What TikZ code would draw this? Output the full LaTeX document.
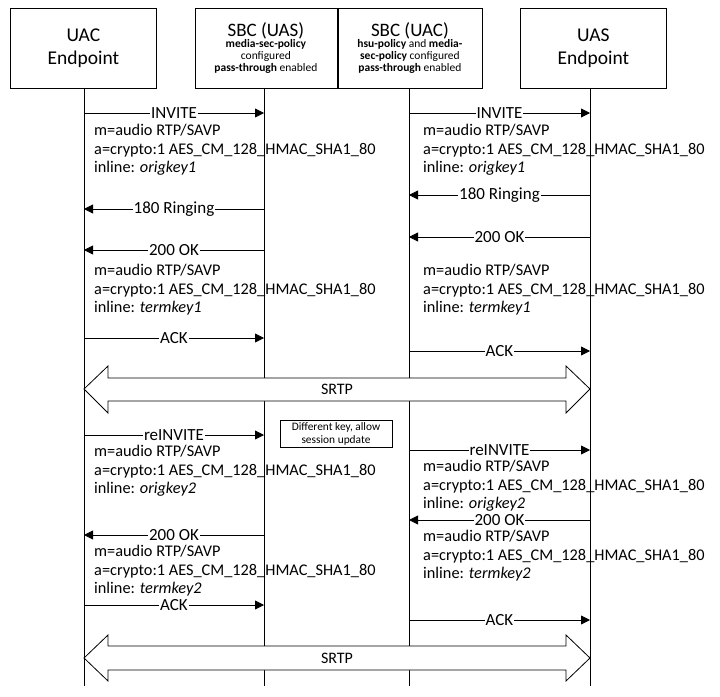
\documentclass[tikz,border=0pt]{standalone}
\usepackage{fontspec}
\setmainfont{Carlito}
\usetikzlibrary{arrows.meta}
\begin{document}
\begin{tikzpicture}[x=1pt,y=-1pt,
  box/.style={draw,line width=0.8pt,minimum height=80pt,align=center,inner sep=0pt,anchor=north west},
  life/.style={line width=0.8pt},
  msg/.style={line width=0.8pt,-{Triangle[length=9pt,width=9pt]}},
  lbl/.style={fill=white,inner sep=1pt,font=\fontsize{17}{17}\selectfont},
  sdp/.style={anchor=north west,align=left,inner sep=0pt,font=\fontsize{16.3}{18.7}\selectfont},
  band/.style={line width=0.8pt,fill=white}]
\useasboundingbox (0,0) rectangle (720,696);
\node[box,minimum width=146pt,font=\fontsize{19.5}{23}\selectfont] (uac) at (10,8) {UAC\\Endpoint};
\node[box,minimum width=142pt] (sbc1) at (194.5,8) {\fontsize{19}{21}\selectfont SBC (UAS)\\[-1pt]\fontsize{11.5}{15}\selectfont\textbf{media-sec-policy}\\\fontsize{11.5}{15}\selectfont configured\\\fontsize{11.5}{15}\selectfont\textbf{pass-through} enabled};
\node[box,minimum width=144pt] (sbc2) at (337.5,8) {\fontsize{19}{21}\selectfont SBC (UAC)\\[-1pt]\fontsize{11.5}{15}\selectfont\textbf{hsu-policy} and \textbf{media-}\\\fontsize{11.5}{15}\selectfont\textbf{sec-policy} configured\\\fontsize{11.5}{15}\selectfont\textbf{pass-through} enabled};
\node[box,minimum width=146pt,font=\fontsize{19.5}{23}\selectfont] (uas) at (520,8) {UAS\\Endpoint};
\coordinate (e1) at (84,686); \coordinate (e2) at (264,686);
\coordinate (e3) at (409,686); \coordinate (e4) at (590,686);
\draw[life] (84,88) -- (e1); \draw[life] (264,88) -- (e2);
\draw[life] (409,88) -- (e3); \draw[life] (590,88) -- (e4);
\draw[msg] (84,113) -- node[lbl]{INVITE} (264,113);
\draw[msg] (409,113) -- node[lbl]{INVITE} (590,113);
\node[sdp] (s1) at (94,124) {m=audio RTP/SAVP\\a=crypto:1 AES\_CM\_128\_HMAC\_SHA1\_80\\inline: \textit{origkey1}};
\node[sdp] (s2) at (423,124) {m=audio RTP/SAVP\\a=crypto:1 AES\_CM\_128\_HMAC\_SHA1\_80\\inline: \textit{origkey1}};
\draw[msg] (590,195) -- node[lbl]{180 Ringing} (409,195);
\draw[msg] (264,209) -- node[lbl]{180 Ringing} (84,209);
\draw[msg] (590,237) -- node[lbl]{200 OK} (409,237);
\draw[msg] (264,250) -- node[lbl]{200 OK} (84,250);
\node[sdp] (s3) at (94,264) {m=audio RTP/SAVP\\a=crypto:1 AES\_CM\_128\_HMAC\_SHA1\_80\\inline: \textit{termkey1}};
\node[sdp] (s4) at (423,264) {m=audio RTP/SAVP\\a=crypto:1 AES\_CM\_128\_HMAC\_SHA1\_80\\inline: \textit{termkey1}};
\draw[msg] (84,338) -- node[lbl]{ACK} (264,338);
\draw[msg] (409,351) -- node[lbl]{ACK} (590,351);
\draw[band] (84,389) -- (108,366) -- (108,378) -- (566,378) -- (566,366) -- (590,389) -- (566,413) -- (566,401) -- (108,401) -- (108,413) -- cycle;
\node[font=\fontsize{16}{16}\selectfont] (srtp1) at (337,389) {SRTP};
\node[draw,line width=0.6pt,align=center,font=\fontsize{11.4}{13}\selectfont,minimum width=112pt,minimum height=27pt,inner sep=1pt] (note) at (336,434) {Different key, allow\\session update};
\draw[msg] (84,435) -- node[lbl]{reINVITE} (264,435);
\node[sdp] (s5) at (94,445) {m=audio RTP/SAVP\\a=crypto:1 AES\_CM\_128\_HMAC\_SHA1\_80\\inline: \textit{origkey2}};
\draw[msg] (409,450) -- node[lbl]{reINVITE} (590,450);
\node[sdp] (s6) at (423,460) {m=audio RTP/SAVP\\a=crypto:1 AES\_CM\_128\_HMAC\_SHA1\_80\\inline: \textit{origkey2}};
\draw[msg] (590,520) -- node[lbl]{200 OK} (409,520);
\node[sdp] (s7) at (423,530) {m=audio RTP/SAVP\\a=crypto:1 AES\_CM\_128\_HMAC\_SHA1\_80\\inline: \textit{termkey2}};
\draw[msg] (264,535) -- node[lbl]{200 OK} (84,535);
\node[sdp] (s8) at (94,545) {m=audio RTP/SAVP\\a=crypto:1 AES\_CM\_128\_HMAC\_SHA1\_80\\inline: \textit{termkey2}};
\draw[msg] (84,605) -- node[lbl]{ACK} (264,605);
\draw[msg] (409,620) -- node[lbl]{ACK} (590,620);
\draw[band] (84,658) -- (108,635) -- (108,646) -- (566,646) -- (566,635) -- (590,658) -- (566,681) -- (566,670) -- (108,670) -- (108,681) -- cycle;
\node[font=\fontsize{16}{16}\selectfont] (srtp2) at (337,658) {SRTP};
\end{tikzpicture}
\end{document}
